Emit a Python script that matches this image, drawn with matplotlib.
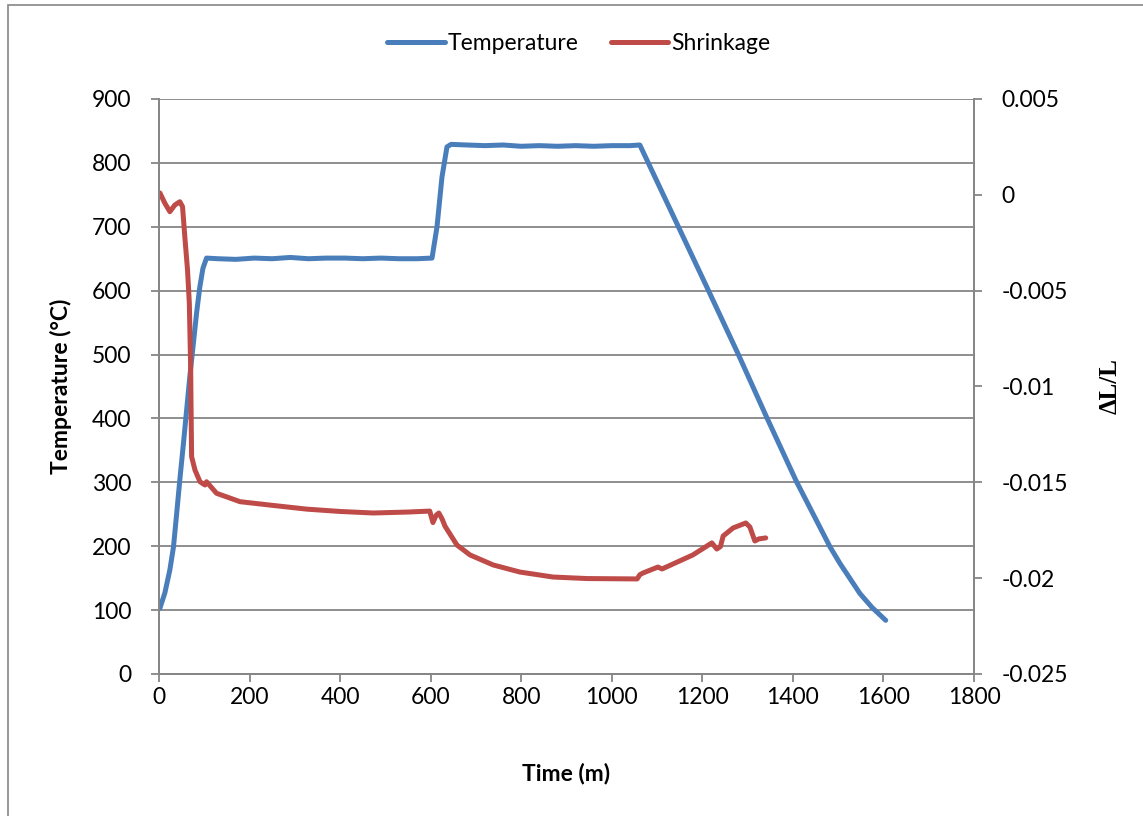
import matplotlib
matplotlib.use("Agg")
import matplotlib.pyplot as plt
from matplotlib.patches import Rectangle

# ---- data ----
time_temp = [2, 13, 24, 32, 39, 46, 54, 61, 68, 76, 83, 90, 97, 105,
             130, 170, 210, 250, 290, 330, 370, 410, 450, 490, 530, 570, 603,
             614, 625, 636, 645, 680, 720, 760, 800, 840, 880, 920, 960, 1000, 1040, 1062,
             1213, 1279, 1342, 1408, 1482, 1504, 1548, 1575, 1605]
temperature = [103, 127, 163, 199, 251, 304, 361, 413, 465, 518, 565, 605, 635, 651,
               650, 649, 651, 650, 652, 650, 651, 651, 650, 651, 650, 650, 651,
               700, 778, 825, 829, 828, 827, 828, 826, 827, 826, 827, 826, 827, 827, 828,
               601, 501, 402, 301, 199, 173, 126, 104, 84]

time_shr = [2, 13, 24, 35, 46, 52, 57, 63, 67, 68.5, 70, 70.7, 72, 79.5, 90.5, 101.6, 105,
            127, 179, 250, 327, 400, 473, 550, 598, 605, 612, 618, 625, 632, 658, 687,
            738, 797, 870, 945, 1056, 1062, 1069, 1102, 1111, 1179, 1221, 1232, 1240,
            1246, 1268, 1296, 1305, 1316, 1325, 1340]
shrinkage = [0.0001, -0.00044, -0.00088, -0.00053, -0.00036, -0.00062, -0.00218, -0.00392,
             -0.00566, -0.0074, -0.00914, -0.01088, -0.01366, -0.01436, -0.01497, -0.01514,
             -0.01497, -0.01557, -0.01601, -0.0162, -0.0164, -0.01652, -0.0166, -0.01655,
             -0.0165, -0.0171, -0.01672, -0.0166, -0.0169, -0.0173, -0.01827, -0.01879,
             -0.01931, -0.01968, -0.01994, -0.02002, -0.02004, -0.01982, -0.01973, -0.01942,
             -0.01952, -0.01879, -0.01816, -0.01848, -0.01835, -0.0178, -0.01738, -0.01712,
             -0.01733, -0.01806, -0.01795, -0.0179]

x_ticks = [0, 200, 400, 600, 800, 1000, 1200, 1400, 1600, 1800]
left_ticks = [0, 100, 200, 300, 400, 500, 600, 700, 800, 900]
right_ticks = [-0.025, -0.02, -0.015, -0.01, -0.005, 0, 0.005]
right_labels = ["-0.025", "-0.02", "-0.015", "-0.01", "-0.005", "0", "0.005"]

BLUE = "#4A7EBB"
RED = "#BE4B48"
GREY = "#868686"

plt.rcParams['font.family'] = ['Lato', 'DejaVu Sans']
plt.rcParams['font.size'] = 16.5

fig = plt.figure(figsize=(11.43, 8.16), dpi=100)
ax = fig.add_axes([159 / 1143, 1 - 674 / 816, (974 - 159) / 1143, (674 - 99) / 816])
ax2 = ax.twinx()

ax.plot(time_temp, temperature, color=BLUE, lw=3.6, solid_capstyle='round',
        solid_joinstyle='round', label="Temperature")
ax2.plot(time_shr, shrinkage, color=RED, lw=3.6, solid_capstyle='round',
         solid_joinstyle='round', label="Shrinkage")

ax.set_xlim(0, 1800)
ax.set_ylim(0, 900)
ax2.set_ylim(-0.025, 0.005)
ax.set_xticks(x_ticks)
ax.set_yticks(left_ticks)
ax2.set_yticks(right_ticks)
ax2.set_yticklabels(right_labels)

ax.yaxis.grid(True, color=GREY, lw=1.3)
ax.set_axisbelow(True)

for a in (ax, ax2):
    a.spines['top'].set_visible(False)
    for s in ('left', 'right', 'bottom'):
        a.spines[s].set_color(GREY)
        a.spines[s].set_linewidth(1.3)
    a.tick_params(colors=GREY, labelcolor='black', width=1.3, length=6, direction='out')
ax.tick_params(axis='y', pad=14)
ax.tick_params(axis='x', pad=3)
ax2.tick_params(axis='y', pad=14)

ax.set_xlabel("Time (m)", fontweight='bold', labelpad=40)
ax.set_ylabel("Temperature (°C)", fontweight='bold', labelpad=14)
ax2.set_ylabel("ΔL/L", fontweight='bold', family=['Liberation Serif', 'DejaVu Serif'],
               fontsize=18, labelpad=22)

h1, l1 = ax.get_legend_handles_labels()
h2, l2 = ax2.get_legend_handles_labels()
fig.legend(h1 + h2, l1 + l2, loc='center', bbox_to_anchor=(579 / 1143, 1 - 44 / 816),
           ncol=2, frameon=False, handlelength=2.5, handletextpad=0.15, columnspacing=1.4)

# chart border like the spreadsheet chart area
fig.patches.append(Rectangle((8 / 1143, -0.05), 1.1, 1 - 5 / 816 + 0.05,
                             transform=fig.transFigure, fill=False, edgecolor=GREY, lw=1.2))

fig.savefig("out.png", dpi=100)
